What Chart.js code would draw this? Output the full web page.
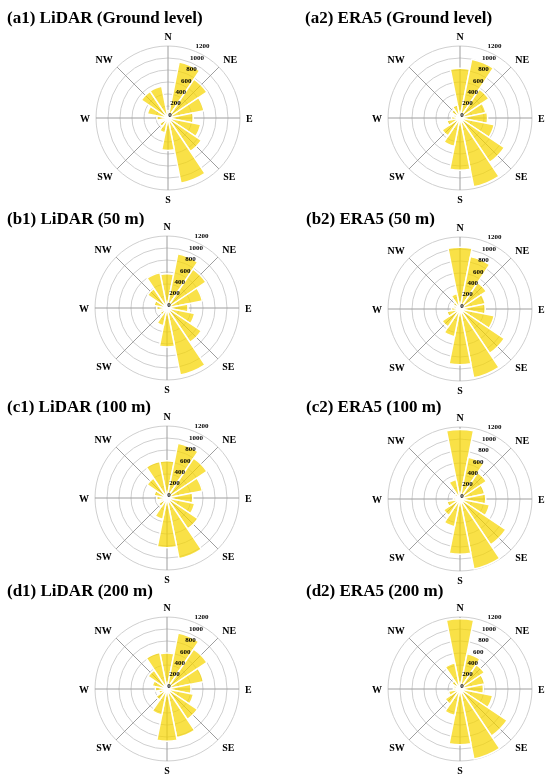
<!DOCTYPE html>
<html>
<head>
<meta charset="utf-8">
<script src="https://cdn.jsdelivr.net/npm/chart.js@4.4.1/dist/chart.umd.min.js"></script>
<style>
  html, body { margin: 0; padding: 0; background: #ffffff; }
  body { position: relative; width: 550px; height: 782px; overflow: hidden; }
  .rose { position: absolute; width: 200px; height: 200px; }
  .title { position: absolute; font: bold 17px "Liberation Serif", "Times New Roman", serif;
           line-height: 17px; white-space: nowrap; color: #000; }
</style>
</head>
<body>
<script>
// ---------- data ----------
const directions = ['N','NNE','NE','ENE','E','ESE','SE','SSE','S','SSW','SW','WSW','W','WNW','NW','NNW'];
const compassLabels = ['N','NE','E','SE','S','SW','W','NW'];
const radialTicks = [0, 200, 400, 600, 800, 1000, 1200];

const lidarGround = [120, 950, 780, 610, 420, 555, 670, 1110, 540, 250, 170, 100, 185, 350, 535, 540];
const era5Ground  = [830, 1000, 580, 440, 460, 580, 890, 1170, 870, 480, 360, 220, 140, 110, 170, 220];
const lidar50     = [570, 920, 780, 600, 350, 470, 690, 1140, 650, 300, 140, 110, 170, 220, 390, 600];
const era5_50     = [1030, 890, 530, 430, 420, 580, 890, 1170, 930, 470, 360, 220, 140, 110, 140, 260];
const lidar100    = [620, 930, 800, 600, 430, 470, 620, 1030, 830, 360, 170, 110, 170, 220, 400, 620];
const era5_100    = [1160, 710, 530, 420, 430, 500, 920, 1190, 920, 470, 330, 220, 110, 80, 110, 330];
const lidar200    = [600, 950, 800, 620, 400, 450, 610, 830, 870, 440, 220, 140, 195, 250, 380, 620];
const era5_200    = [1170, 600, 490, 420, 390, 555, 945, 1190, 930, 450, 300, 195, 110, 110, 165, 440];

const panelTitles = ['(a1) LiDAR (Ground level)', '(a2) ERA5 (Ground level)',
                     '(b1) LiDAR (50 m)', '(b2) ERA5 (50 m)',
                     '(c1) LiDAR (100 m)', '(c2) ERA5 (100 m)',
                     '(d1) LiDAR (200 m)', '(d2) ERA5 (200 m)'];
const panelSeries = [lidarGround, era5Ground, lidar50, era5_50, lidar100, era5_100, lidar200, era5_200];

// ---------- layout (positions only) ----------
const roseCenters = [[168,118],[460,118],[167,308],[460,309],[167,498],[460,499],[167,689],[460,689]];
const titleBoxes  = [[7,9],[305,9],[7,210],[306,210],[7,398],[306,398],[7,582],[306,582]];

// 32 spoke slots: every 11.25 deg starting at -11.25; compass names on the 45-degree ones
const spokeLabels = [];
for (let i = 0; i < 32; i++) {
  spokeLabels.push((i % 4 === 1) ? compassLabels[(i - 1) / 4] : '');
}

const roseText = {
  id: 'roseText',
  afterDraw(chart) {
    const s = chart.scales.r;
    const ctx = chart.ctx;
    ctx.save();
    ctx.fillStyle = '#000';
    // radial tick labels
    ctx.font = 'bold 7px "Liberation Serif", serif';
    ctx.textAlign = 'center';
    ctx.textBaseline = 'middle';
    radialTicks.forEach(v => {
      const d = s.getDistanceFromCenterForValue(v);
      ctx.fillText(String(v), s.xCenter + 0.45 * d + 2, s.yCenter - (0.95 * d + 3));
    });
    // compass labels
    ctx.font = 'bold 10px "Liberation Serif", serif';
    const pad = 6, capH = 7;
    spokeLabels.forEach((lab, i) => {
      if (!lab) return;
      const p = s.getPointPosition(i, s.drawingArea + pad);
      const ang = p.angle + Math.PI / 2; // from north, clockwise
      const sn = Math.sin(ang), cs = Math.cos(ang);
      const w = ctx.measureText(lab).width;
      const sx = Math.abs(sn) < 1e-6 ? 0 : Math.sign(sn);
      const sy = Math.abs(cs) < 1e-6 ? 0 : Math.sign(cs);
      ctx.textAlign = 'center';
      ctx.textBaseline = 'alphabetic';
      const x = p.x + sx * w / 2;
      const yMid = p.y - sy * capH / 2;
      ctx.fillText(lab, x, yMid + capH / 2);
    });
    ctx.restore();
  }
};

panelSeries.forEach((series, k) => {
  const [cx, cy] = roseCenters[k];
  const cv = document.createElement('canvas');
  cv.className = 'rose';
  cv.width = 200; cv.height = 200;
  cv.style.left = (cx - 100) + 'px';
  cv.style.top = (cy - 100) + 'px';
  document.body.appendChild(cv);

  new Chart(cv, {
    type: 'polarArea',
    data: {
      labels: directions,
      datasets: [{
        data: series,
        backgroundColor: 'rgba(247,214,0,0.72)',
        borderColor: '#ffffff',
        borderWidth: 1.5
      }]
    },
    options: {
      responsive: false,
      animation: false,
      devicePixelRatio: 1,
      layout: { padding: 28 },
      plugins: { legend: { display: false }, tooltip: { enabled: false } },
      scales: {
        r: {
          type: 'radialLinear',
          min: 0, max: 1200,
          startAngle: -11.25,
          labels: spokeLabels,
          ticks: { display: false, stepSize: 200 },
          grid: { circular: true, color: '#cfcfcf', lineWidth: 1 },
          angleLines: { display: true, color: '#9e9e9e', lineWidth: c => (c.label ? 1 : 0) },
          pointLabels: { display: false }
        }
      }
    },
    plugins: [roseText]
  });

  const t = document.createElement('div');
  t.className = 'title';
  t.textContent = panelTitles[k];
  t.style.left = titleBoxes[k][0] + 'px';
  t.style.top = titleBoxes[k][1] + 'px';
  document.body.appendChild(t);
});
</script>
</body>
</html>
